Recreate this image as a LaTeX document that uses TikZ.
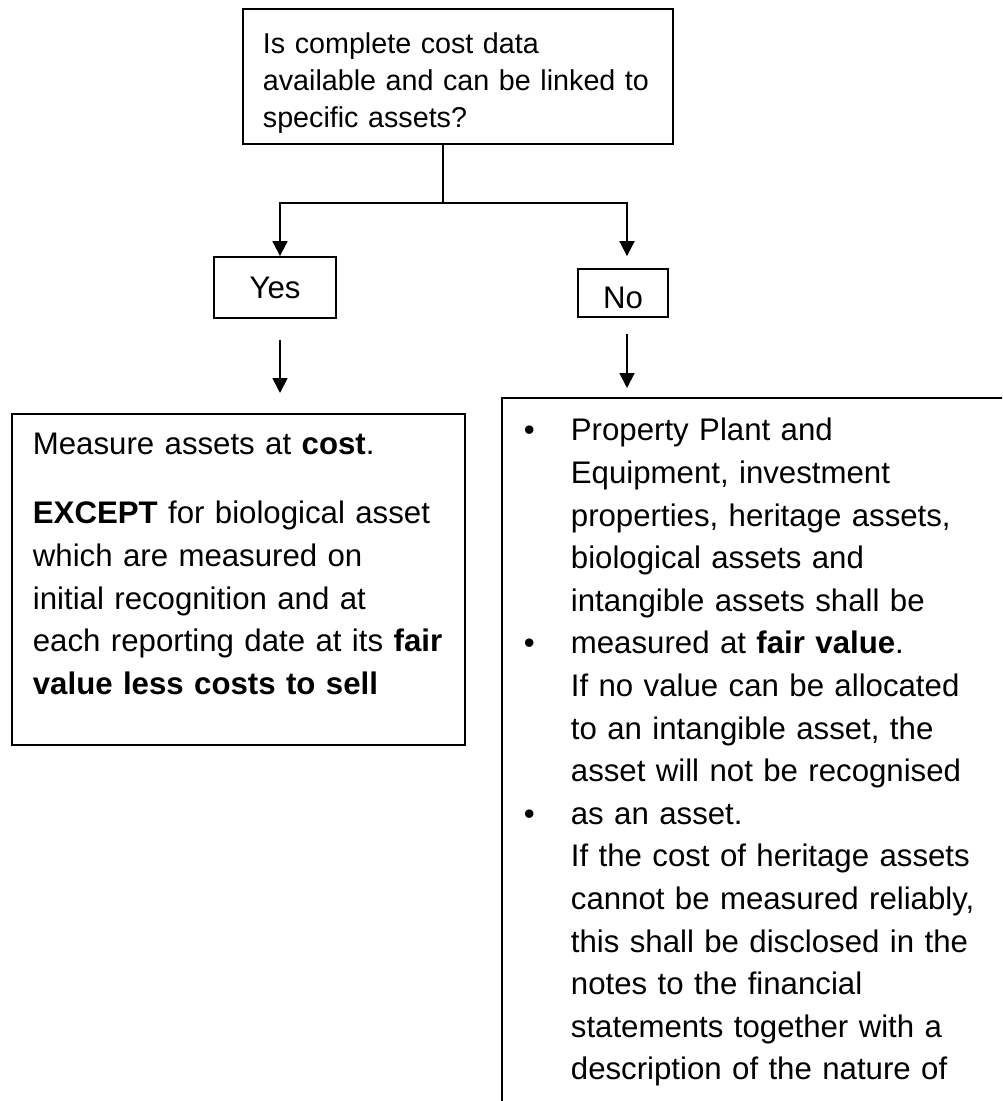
\documentclass[tikz,border=0pt]{standalone}
\usepackage{fontspec}
\setmainfont{Liberation Sans}
\usetikzlibrary{positioning,arrows.meta,calc}

\newcommand{\firststrut}[1]{\rule{0pt}{#1}}
\newcommand{\laststrut}[1]{\rule[-#1]{0pt}{#1}\par}
\newcommand{\bul}{\makebox[23.5pt][l]{\textbullet}}
\newcommand{\ind}{\hspace*{23.5pt}}

\begin{document}
\begin{tikzpicture}
  [
    x=0.5pt, y=-0.5pt,
    box/.style={draw, line width=0.9pt, rectangle, align=left, inner sep=0pt, anchor=north west},
    small text/.style={font=\fontsize{14.35}{18.3}\selectfont},
    body text/.style={font=\fontsize{15.6}{21.3}\selectfont},
    answer/.style={draw, line width=0.9pt, body text, inner sep=0pt, text depth=0pt},
    arrow/.style={line width=0.9pt, -{Triangle[width=7.5pt,length=7.5pt]}},
  ]

  \useasboundingbox (0,0) rectangle (1002,1101);
  \clip (0,0) rectangle (1002,1101);

  \coordinate (split) at (443,203);

  % question
  \node[box, small text, text width=215pt] (question) at (242,8)
    {\leftskip=10pt\firststrut{22.5pt}Is complete cost data\\
     available and can be linked to\\
     specific assets?\laststrut{8.5pt}};

  % answers
  \node[answer, minimum width=61pt, minimum height=30.5pt, text height=11pt] (yes) at (275,287.5) {Yes};
  \node[answer, minimum width=45pt, minimum height=24pt, text height=15pt] (no) at (623,293) {No};

  % outcomes
  \node[box, body text, text width=226.5pt] (cost) at (11,413)
    {\leftskip=10.5pt\firststrut{20.5pt}Measure assets at \textbf{cost}.\\[13.2pt]
     \textbf{EXCEPT} for biological asset\\
     which are measured on\\
     initial recognition and at\\
     each reporting date at its \textbf{fair}\\
     \textbf{value less costs to sell}\laststrut{25.5pt}};

  \node[box, body text, text width=272pt] (fair) at (501,397)
    {\leftskip=11pt\firststrut{21.5pt}\bul Property Plant and\\
     \ind Equipment, investment\\
     \ind properties, heritage assets,\\
     \ind biological assets and\\
     \ind intangible assets shall be\\
     \bul measured at \textbf{fair value}.\\
     \ind If no value can be allocated\\
     \ind to an intangible asset, the\\
     \ind asset will not be recognised\\
     \bul as an asset.\\
     \ind If the cost of heritage assets\\
     \ind cannot be measured reliably,\\
     \ind this shall be disclosed in the\\
     \ind notes to the financial\\
     \ind statements together with a\\
     \ind description of the nature of\laststrut{40pt}};

  % connectors
  \draw[line width=0.9pt] (question.south -| split) -- (split);
  \draw[arrow] (split) -| ([xshift=2.5pt]yes.north);
  \draw[arrow, shorten >=6pt] (split) -| ([xshift=2pt]no.north);
  \draw[arrow, shorten <=10.5pt, shorten >=10pt] ([xshift=2.5pt]yes.south) -- ([xshift=2.5pt]yes.south |- cost.north);
  \draw[arrow, shorten <=8pt, shorten >=4.5pt] ([xshift=2pt]no.south) -- ([xshift=2pt]no.south |- fair.north);

\end{tikzpicture}
\end{document}
